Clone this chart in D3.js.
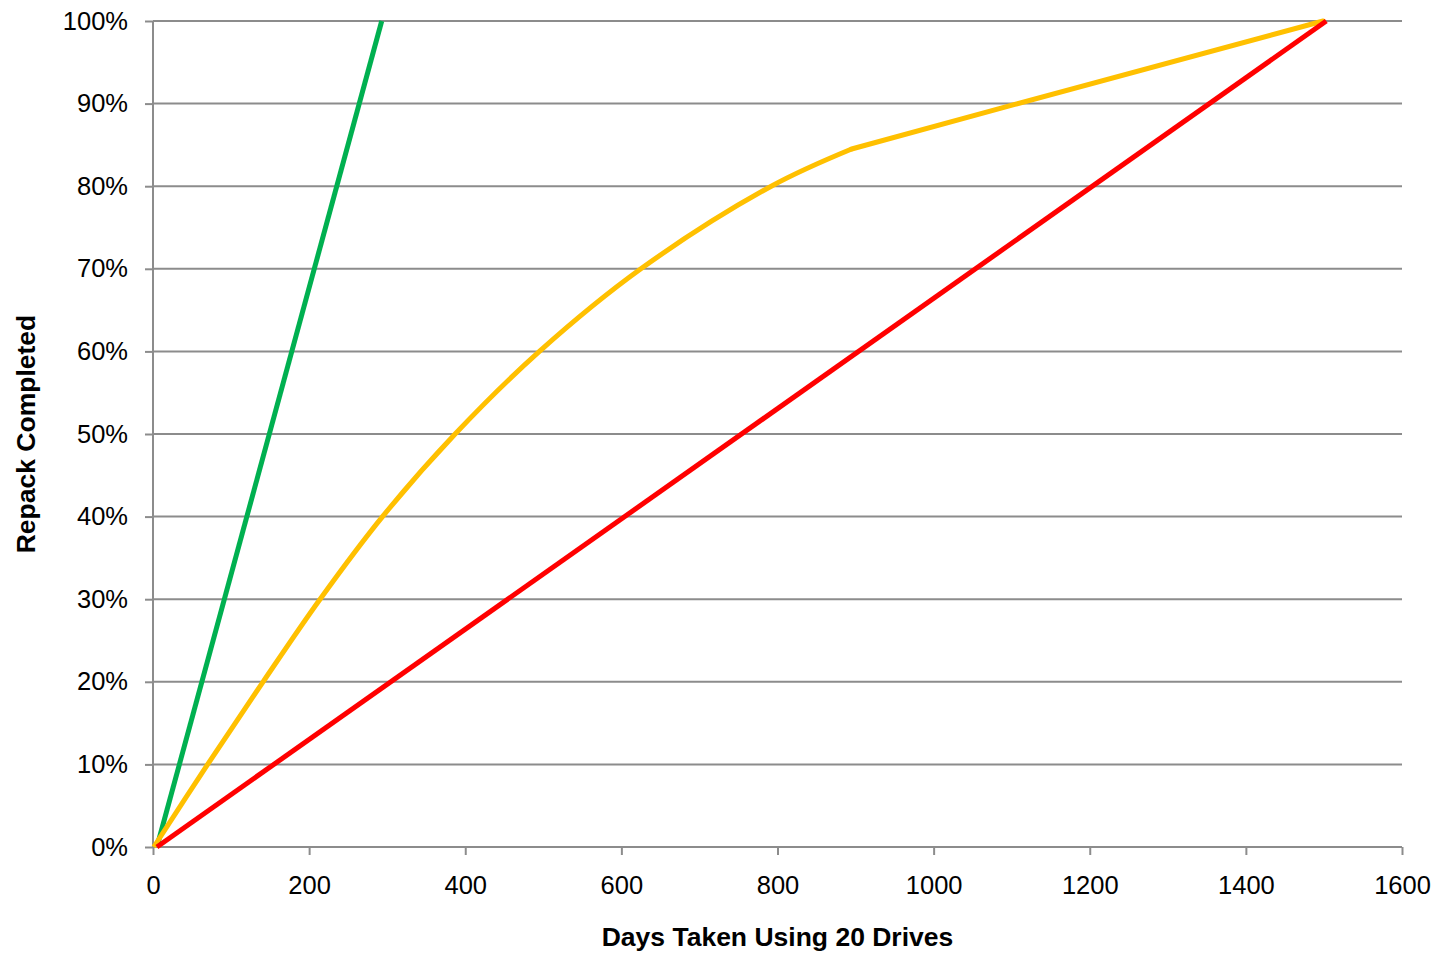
<!DOCTYPE html>
<html>
<head>
<meta charset="utf-8">
<script src="https://cdn.jsdelivr.net/npm/d3@7"></script>
<style>
html,body{margin:0;padding:0;background:#fff;}
svg text{font-family:"Liberation Sans",Arial,sans-serif;fill:#000;}
</style>
</head>
<body>
<svg id="chart" width="1441" height="953"></svg>
<script>
// ---- data (days, % completed) ----
const xTicks = [0, 200, 400, 600, 800, 1000, 1200, 1400, 1600];
const yTicks = [0, 10, 20, 30, 40, 50, 60, 70, 80, 90, 100];
const greenDays = [5, 293];
const greenPct  = [0, 100];
// yellow: smooth part up to the bend, then a straight run to 100%
const yellowCurveDays = [1, 70, 141, 214, 294, 387, 495, 625, 792, 895];
const yellowCurvePct  = [0, 10, 20, 30, 40, 50, 60, 70, 80, 84.5];
const yellowTailDays  = [895, 1104, 1499];
const yellowTailPct   = [84.5, 89.9, 100];
const redDays = [5, 1503];
const redPct  = [0, 100];
const xTitle = "Days Taken Using 20 Drives";
const yTitle = "Repack Completed";

(function () {
const svg = d3.select("#chart");
const mLeft = 153, mRight = 1402, mTop = 21, mBottom = 847;
const x = d3.scaleLinear().domain([0, 1600]).range([mLeft, mRight]);
const y = d3.scaleLinear().domain([0, 100]).range([mBottom, mTop]);
const gray = "#8c8c8c";

// gridlines
svg.append("g").selectAll("line").data(yTicks.filter(d => d > 0)).join("line")
  .attr("x1", mLeft).attr("x2", mRight)
  .attr("y1", d => y(d)).attr("y2", d => y(d))
  .attr("stroke", gray).attr("stroke-width", 2);

// y axis
const yAxis = svg.append("g").attr("transform", `translate(${mLeft},0)`)
  .call(d3.axisLeft(y).tickValues(yTicks).tickFormat(d => d + "%").tickSize(8).tickPadding(17));
yAxis.select(".domain").attr("stroke", gray).attr("stroke-width", 2).attr("d", `M0,${mTop}V${mBottom}`);
yAxis.selectAll(".tick line").attr("stroke", gray).attr("stroke-width", 2);
yAxis.selectAll(".tick text").attr("font-size", 25.5).attr("fill", "#000");

// x axis
const xAxis = svg.append("g").attr("transform", `translate(0,${mBottom})`)
  .call(d3.axisBottom(x).tickValues(xTicks).tickFormat(d3.format("d")).tickSize(8).tickPadding(21));
xAxis.select(".domain").attr("stroke", gray).attr("stroke-width", 2).attr("d", `M${mLeft},0H${mRight}`);
xAxis.selectAll(".tick line").attr("stroke", gray).attr("stroke-width", 2);
xAxis.selectAll(".tick text").attr("font-size", 25.5).attr("fill", "#000");

// lines
const line = d3.line().x(d => x(d[0])).y(d => y(d[1]));
const smooth = d3.line().x(d => x(d[0])).y(d => y(d[1])).curve(d3.curveCatmullRom.alpha(0.5));
const zip = (a, b) => a.map((v, i) => [v, b[i]]);

svg.append("path").datum(zip(greenDays, greenPct)).attr("d", line)
  .attr("fill", "none").attr("stroke", "#00b050").attr("stroke-width", 5);
const yg = svg.append("g").attr("fill", "none").attr("stroke", "#ffc000").attr("stroke-width", 5)
  .attr("stroke-linejoin", "round");
yg.append("path").datum(zip(yellowCurveDays, yellowCurvePct)).attr("d", smooth);
yg.append("path").datum(zip(yellowTailDays, yellowTailPct)).attr("d", line).attr("stroke-linecap", "round");
svg.append("path").datum(zip(redDays, redPct)).attr("d", line)
  .attr("fill", "none").attr("stroke", "#ff0000").attr("stroke-width", 5);

// titles
svg.append("text").attr("x", (mLeft + mRight) / 2).attr("y", 946)
  .attr("text-anchor", "middle").attr("font-weight", "bold").attr("font-size", 26.5).text(xTitle);
svg.append("text").attr("transform", `translate(35,${(mTop + mBottom) / 2}) rotate(-90)`)
  .attr("text-anchor", "middle").attr("font-weight", "bold").attr("font-size", 26.5).text(yTitle);
})();
</script>
</body>
</html>
